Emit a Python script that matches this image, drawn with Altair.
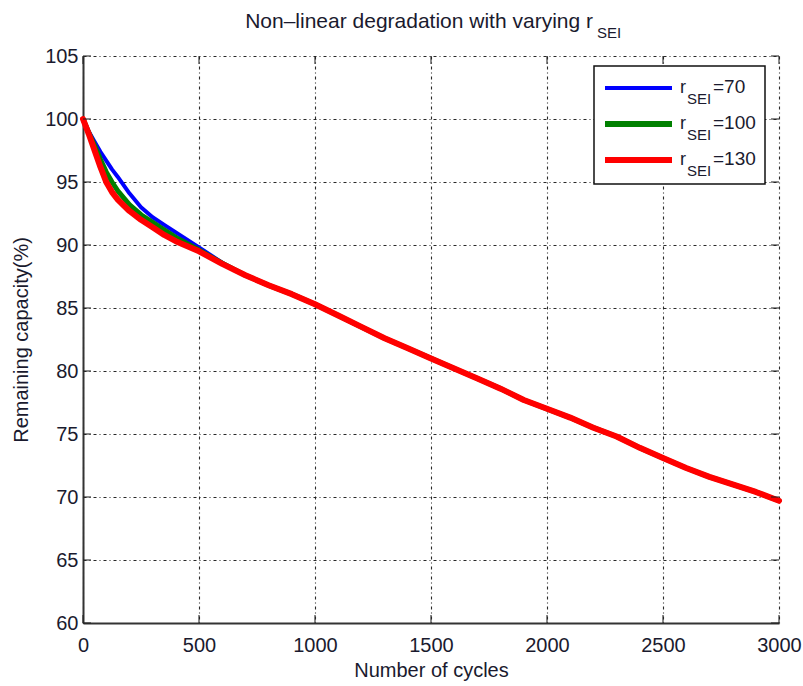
import altair as alt
import pandas as pd

# ---- data ----
cycles_head = [0, 25, 50, 75, 100, 125, 150, 200, 250, 300, 350, 400, 500, 600]
cycles_tail = [700, 800, 900, 1000, 1100, 1200, 1300, 1400, 1500, 1600, 1700, 1800,
               1900, 2000, 2100, 2200, 2300, 2400, 2500, 2600, 2700, 2800, 2900, 3000]

r70_head = [100, 99.0, 98.2, 97.4, 96.7, 96.0, 95.4, 94.1, 93.0, 92.2, 91.6, 91.0, 89.8, 88.6]
r100_head = [100, 98.9, 97.9, 96.8, 95.8, 95.0, 94.3, 93.2, 92.4, 91.8, 91.2, 90.6, 89.6, 88.55]
r130_head = [100, 98.8, 97.5, 96.2, 95.0, 94.2, 93.6, 92.7, 92.0, 91.4, 90.8, 90.3, 89.5, 88.5]
common_tail = [87.6, 86.8, 86.1, 85.3, 84.4, 83.5, 82.6, 81.8, 81.0, 80.2, 79.4, 78.6,
               77.7, 77.0, 76.3, 75.5, 74.8, 73.9, 73.1, 72.3, 71.6, 71.0, 70.4, 69.7]

series_names = ["70", "100", "130"]
series_colors = ["#0000ff", "#008000", "#ff0000"]
series_widths = [4, 5, 6]
legend_widths = [4, 6, 6]

x_ticks = [0, 500, 1000, 1500, 2000, 2500, 3000]
y_ticks = [60, 65, 70, 75, 80, 85, 90, 95, 100, 105]

title_main = "Non–linear degradation with varying r"
title_sub = "SEI"
x_title = "Number of cycles"
y_title = "Remaining capacity(%)"

# ---- layout ----
W, H = 696, 567
FONT = "Liberation Sans"
TXT = "#1a1a2e"

cycles = cycles_head + cycles_tail
heads = [r70_head, r100_head, r130_head]

xscale = alt.Scale(domain=[0, 3000], nice=False)
yscale = alt.Scale(domain=[60, 105], nice=False)

grid_kw = dict(grid=True, gridColor="#111111", gridDash=[3, 3, 1, 3], gridWidth=1.1,
               gridOpacity=0.9, ticks=False, domainColor="#333333", domainWidth=2,
               labelFont=FONT, labelFontSize=20, labelColor=TXT,
               titleFont=FONT, titleFontSize=20, titleFontWeight="normal", titleColor=TXT)

layers = []
for i, name in enumerate(series_names):
    df = pd.DataFrame({"cycles": cycles, "capacity": heads[i] + common_tail})
    enc = dict(
        x=alt.X("cycles:Q", scale=xscale,
                axis=alt.Axis(values=x_ticks, title=x_title, labelPadding=12, format="d",
                              titlePadding=5, labelFlush=False, **grid_kw)),
        y=alt.Y("capacity:Q", scale=yscale,
                axis=alt.Axis(values=y_ticks, title=y_title, labelPadding=5,
                              titlePadding=13, **grid_kw)),
    )
    layers.append(
        alt.Chart(df).mark_line(color=series_colors[i], strokeWidth=series_widths[i],
                                strokeJoin="round", strokeCap="round").encode(**enc)
    )

# inward tick marks on all four sides
ydf = pd.DataFrame({"v": y_ticks})
xdf = pd.DataFrame({"v": x_ticks})
for xv in [4, W - 4]:
    layers.append(alt.Chart(ydf).mark_tick(orient="horizontal", size=8, thickness=1.5,
                                           color="#222222")
                  .encode(y=alt.Y("v:Q", scale=yscale), x=alt.value(xv)))
for yv in [4, H - 4]:
    layers.append(alt.Chart(xdf).mark_tick(orient="vertical", size=8, thickness=1.5,
                                           color="#222222")
                  .encode(x=alt.X("v:Q", scale=xscale), y=alt.value(yv)))

one = pd.DataFrame({"a": [0]})

# legend box
layers.append(alt.Chart(one).mark_rect(fill="white", stroke="#111111", strokeWidth=1.5)
              .encode(x=alt.value(511), x2=alt.value(682), y=alt.value(10), y2=alt.value(128)))
for i, name in enumerate(series_names):
    ly = 32 + i * 36
    layers.append(alt.Chart(one).mark_rule(color=series_colors[i], strokeWidth=legend_widths[i])
                  .encode(x=alt.value(522), x2=alt.value(589), y=alt.value(ly)))
    base = ly + 5
    layers.append(alt.Chart(one).mark_text(align="left", baseline="alphabetic", font=FONT,
                                           fontSize=18, color=TXT)
                  .encode(x=alt.value(597), y=alt.value(base), text=alt.value("r")))
    layers.append(alt.Chart(one).mark_text(align="left", baseline="alphabetic", font=FONT,
                                           fontSize=15, color=TXT)
                  .encode(x=alt.value(604), y=alt.value(base + 11), text=alt.value("SEI")))
    layers.append(alt.Chart(one).mark_text(align="left", baseline="alphabetic", font=FONT,
                                           fontSize=19, color=TXT)
                  .encode(x=alt.value(630), y=alt.value(base), text=alt.value("=" + name)))

# title with subscript
layers.append(alt.Chart(one).mark_text(align="right", baseline="alphabetic", font=FONT,
                                       fontSize=21, color=TXT)
              .encode(x=alt.value(510), y=alt.value(-28), text=alt.value(title_main)))
layers.append(alt.Chart(one).mark_text(align="left", baseline="alphabetic", font=FONT,
                                       fontSize=15, color=TXT)
              .encode(x=alt.value(514), y=alt.value(-18), text=alt.value(title_sub)))

chart = alt.layer(*layers).properties(
    width=W, height=H,
    padding={"left": 83, "top": 56, "right": 24, "bottom": 63},
    autosize=alt.AutoSizeParams(type="none"),
    background="white",
).configure_view(stroke=None)

chart.save("out.html", embed_options={"renderer": "svg", "actions": False})
